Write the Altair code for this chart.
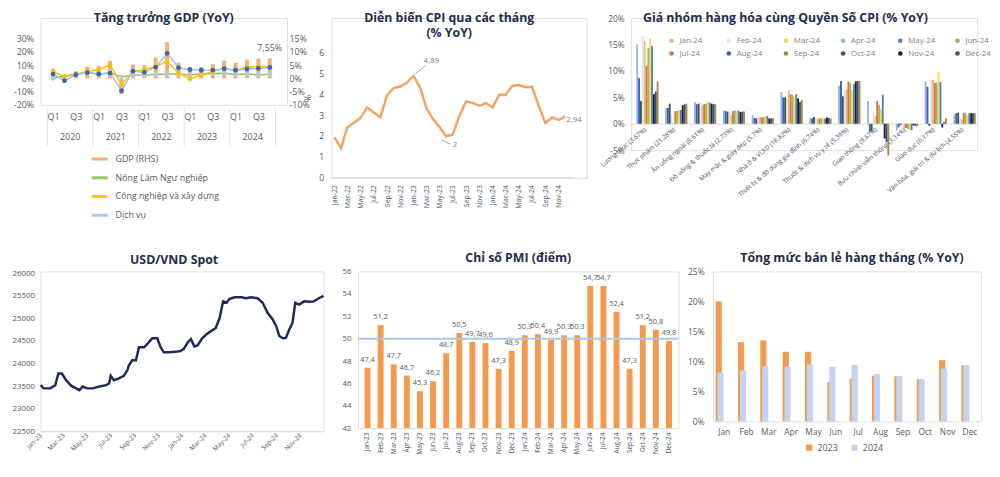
import altair as alt
import pandas as pd

FONT = "Open Sans"
TITLE_COLOR = "#1F2D50"
LABEL_COLOR = "#595959"
ORANGE = "#F39A4E"

# ---------------- Panel 1: GDP growth ----------------
gdp_years = ["2020", "2021", "2022", "2023", "2024"]
gdp = [3.68, 0.39, 2.69, 4.48, 4.72, 6.73, -6.02, 5.22, 5.05, 7.83, 13.71, 5.92,
       3.41, 4.25, 5.47, 6.72, 5.87, 7.09, 7.40, 7.55]
agri = [0.08, 1.72, 2.93, 4.69, 3.16, 4.10, 1.04, 2.60, 2.45, 2.88, 3.24, 3.38,
        2.52, 3.25, 3.72, 3.84, 2.98, 3.34, 2.58, 3.10]
industry = [5.15, 1.38, 2.95, 5.60, 6.30, 10.28, -5.02, 5.61, 6.38, 8.92, 12.91, 3.98,
            -0.40, 2.50, 5.19, 7.35, 6.28, 8.29, 9.11, 8.35]
services = [3.27, -1.76, 2.75, 4.29, 3.34, 4.00, -9.28, 5.42, 4.58, 8.56, 18.86, 8.12,
            6.68, 6.11, 6.24, 7.29, 6.12, 7.06, 7.51, 8.21]
gdp_series = ["GDP (RHS)", "Nông Lâm Ngư nghiệp", "Công nghiệp và xây dựng", "Dịch vụ"]
gdp_line_colors = ["#F4A46A", "#8CC152", "#FFC000", "#9DC3E6"]
gdp_marker_colors = ["#B4C7E7", "#FFC000", "#3F63B8"]
gdp_last_label = "7,55%"

# ---------------- Panel 2: CPI monthly ----------------
month_abbr = ["Jan", "Feb", "Mar", "Apr", "May", "Jun", "Jul", "Aug", "Sep", "Oct", "Nov", "Dec"]
cpi_years = [2022, 2023, 2024]
cpi = [1.94, 1.42, 2.41, 2.64, 2.86, 3.37, 3.14, 2.89, 3.94, 4.30, 4.37, 4.55,
       4.89, 4.31, 3.35, 2.81, 2.43, 2.00, 2.06, 2.96, 3.66, 3.59, 3.45, 3.58,
       3.37, 3.98, 3.97, 4.40, 4.44, 4.34, 4.36, 3.45, 2.63, 2.89, 2.77, 2.94]

# ---------------- Panel 3: CPI groups ----------------
cpi_groups = ["Lương thực (3,67%)", "Thực phẩm (21,28%)", "Ăn uống ngoài (8,61%)",
              "Đồ uống & thuốc lá (2,73%)", "May mặc & giày dép (5,7%)", "Nhà ở & VLXD (18,82%)",
              "Thiết bị & đồ dùng gia đình (6,74%)", "Thuốc & dịch vụ y tế (5,39%)",
              "Giao thông (9,67%)", "Bưu chính viễn thông (3,14%)", "Giáo dục (6,17%)",
              "Văn hóa, giải trí & du lịch (4,55%)"]
group_months = ["Jan-24", "Feb-24", "Mar-24", "Apr-24", "May-24", "Jun-24",
                "Jul-24", "Aug-24", "Sep-24", "Oct-24", "Nov-24", "Dec-24"]
group_colors = ["#F4B183", "#DCE4F2", "#FFD54F", "#9DB2D8", "#5B7BC0", "#8FBF5A",
                "#E0703A", "#2F5FD0", "#A8893A", "#34507F", "#1B2233", "#3E5C3A"]
g_luong_thuc = [15.6, 16.6, 16.1, 15.0, 14.7, 14.3, 11.0, 8.6, 8.0, 6.1, 5.6, 4.3]
g_thuc_pham = [0.1, 1.8, 2.6, 3.0, 2.6, 2.4, 2.4, 3.0, 3.8, 3.7, 3.5, 3.8]
g_an_uong = [3.5, 4.0, 4.2, 4.1, 4.0, 3.8, 3.7, 3.7, 3.7, 3.7, 3.8, 3.8]
g_do_uong = [1.6, 2.4, 2.5, 2.5, 2.5, 2.5, 2.4, 2.4, 2.3, 2.3, 2.2, 2.3]
g_may_mac = [1.3, 1.3, 1.5, 1.6, 1.5, 1.3, 1.2, 1.1, 1.1, 1.0, 1.0, 1.0]
g_nha_o = [6.3, 4.8, 5.2, 6.0, 5.6, 5.4, 5.6, 5.0, 4.5, 4.1, 4.8, 5.0]
g_thiet_bi = [1.0, 1.1, 1.1, 1.1, 1.0, 1.0, 1.0, 1.0, 1.0, 1.1, 1.2, 1.3]
g_y_te = [6.5, 6.2, 6.4, 7.2, 7.5, 7.7, 8.0, 8.1, 8.1, 8.1, 8.0, 5.2]
g_giao_thong = [1.4, 2.2, 2.7, 4.3, 5.5, 3.6, 4.3, -1.5, -6.0, -3.5, -2.8, -1.4]
g_buu_chinh = [-1.3, -1.4, -1.2, -1.3, -1.2, -1.0, -0.8, -0.7, -0.5, -0.4, -0.3, -0.3]
g_giao_duc = [8.3, 8.3, 9.8, 8.0, 7.9, 7.8, 7.7, 7.0, 1.0, 0.3, -0.7, -0.4]
g_van_hoa = [0.8, 1.1, 1.5, 1.8, 2.0, 2.1, 2.1, 2.0, 2.0, 2.0, 2.0, 2.1]

# ---------------- Panel 4: USD/VND ----------------
fx_dates = ["2023-01-01", "2023-01-09", "2023-01-26", "2023-02-08", "2023-02-16", "2023-02-25",
            "2023-03-08", "2023-03-21", "2023-04-03", "2023-04-11", "2023-04-20", "2023-05-01",
            "2023-05-15", "2023-06-02", "2023-06-19", "2023-06-27", "2023-07-01", "2023-07-09",
            "2023-07-22", "2023-08-04", "2023-08-13", "2023-08-17", "2023-08-26", "2023-09-04",
            "2023-09-12", "2023-09-25", "2023-10-03", "2023-10-16", "2023-10-29", "2023-11-07",
            "2023-11-15", "2023-11-28", "2023-12-15", "2023-12-28", "2024-01-05", "2024-01-16",
            "2024-01-24", "2024-02-02", "2024-02-10", "2024-02-22", "2024-03-04", "2024-03-16",
            "2024-03-28", "2024-04-07", "2024-04-16", "2024-04-25", "2024-05-02", "2024-05-15",
            "2024-06-02", "2024-06-14", "2024-06-27", "2024-07-14", "2024-07-27", "2024-08-09",
            "2024-08-22", "2024-08-31", "2024-09-08", "2024-09-17", "2024-09-25", "2024-10-04",
            "2024-10-12", "2024-10-19", "2024-10-29", "2024-11-11", "2024-11-24", "2024-12-06",
            "2024-12-19", "2024-12-31"]
fx_values = [23520, 23450, 23450, 23520, 23780, 23780, 23630, 23510, 23450, 23410, 23490, 23450,
             23450, 23490, 23520, 23560, 23730, 23630, 23670, 23730, 23850, 23960, 24080, 24070,
             24360, 24360, 24430, 24560, 24560, 24360, 24250, 24250, 24260, 24280, 24320, 24470,
             24540, 24380, 24400, 24560, 24650, 24720, 24790, 25010, 25380, 25350, 25430, 25470,
             25470, 25450, 25470, 25450, 25350, 25120, 24980, 24830, 24610, 24560, 24570, 24760,
             24900, 25350, 25310, 25380, 25370, 25380, 25450, 25500]

# ---------------- Panel 5: PMI ----------------
pmi_years = ["23", "24"]
pmi = [47.4, 51.2, 47.7, 46.7, 45.3, 46.2, 48.7, 50.5, 49.7, 49.6, 47.3, 48.9,
       50.3, 50.4, 49.9, 50.3, 50.3, 54.7, 54.7, 52.4, 47.3, 51.2, 50.8, 49.8]
pmi_threshold = 50

# ---------------- Panel 6: Retail sales ----------------
retail_years = ["2023", "2024"]
retail_2023 = [20.0, 13.2, 13.5, 11.6, 11.6, 6.6, 7.1, 7.6, 7.5, 7.0, 10.2, 9.3]
retail_2024 = [8.1, 8.5, 9.2, 9.1, 9.5, 9.1, 9.4, 7.9, 7.5, 7.0, 8.8, 9.3]
retail_colors = ["#F39A4E", "#C5D3F2"]


def title(text, dx=0, offset=None):
    kw = dict(font=FONT, fontSize=12.5, fontWeight="bold", color=TITLE_COLOR, dx=dx, anchor="middle",
              lineHeight=15)
    if offset is not None:
        kw["offset"] = offset
    return alt.TitleParams(text, **kw)


def comma(v, nd=1):
    return f"{v:.{nd}f}".replace(".", ",")


# ======== Panel 1 ========
W1, H1 = 250, 88
XD1 = [-0.664, 20.08]
df_gdp = pd.DataFrame({"idx": list(range(20)), "value": gdp, "series": gdp_series[0]})
df_gdp["label"] = ["" for _ in gdp]
df_gdp.loc[19, "label"] = gdp_last_label
rows = []
for name, vals in zip(gdp_series[1:], [agri, industry, services]):
    for i, v in enumerate(vals):
        rows.append({"idx": i, "value": v, "series": name})
df_sec = pd.DataFrame(rows)
df_year = pd.DataFrame({"idx": [1.5 + 4 * i for i in range(5)], "year": gdp_years})
df_sep = pd.DataFrame({"idx": [-0.5 + 4 * i for i in range(6)]})

sx1 = alt.Scale(domain=XD1, nice=False, zero=False)
x1 = alt.X("idx:Q", scale=sx1,
           axis=alt.Axis(values=list(range(0, 20, 2)), labelExpr="datum.value % 4 == 0 ? 'Q1' : 'Q3'",
                         ticks=False, domain=False, grid=False, title=None, labelFontSize=9,
                         labelColor=LABEL_COLOR, labelPadding=8, labelOverlap=False))
color1 = alt.Color("series:N", scale=alt.Scale(domain=gdp_series, range=gdp_line_colors),
                   legend=alt.Legend(orient="none", legendX=50, legendY=133, direction="vertical",
                                     title=None, symbolType="stroke", symbolStrokeWidth=3,
                                     symbolSize=260, labelFontSize=9, labelColor=LABEL_COLOR,
                                     labelFont=FONT, rowPadding=3, labelOffset=6))
yR = alt.Y("value:Q", scale=alt.Scale(domain=[-10, 22.8], nice=False, zero=False),
           axis=alt.Axis(orient="right", values=[-10, -5, 0, 5, 10, 15], labelExpr="datum.value + '%'",
                         grid=False, ticks=False, domain=False, title=None, labelFontSize=9,
                         labelColor=LABEL_COLOR, labelPadding=2, labelOverlap=False))
bars1 = alt.Chart(df_gdp).mark_bar(size=4, opacity=0.9).encode(x=x1, y=yR, color=color1)
lbl1 = alt.Chart(df_gdp).mark_text(dy=-11, fontSize=9, color=LABEL_COLOR, font=FONT).encode(
    x=x1, y=yR, text="label:N")
yL = alt.Y("value:Q", scale=alt.Scale(domain=[-20, 45.6], nice=False, zero=False),
           axis=alt.Axis(orient="left", values=[-20, -10, 0, 10, 20, 30], labelExpr="datum.value + '%'",
                         grid=False, ticks=False, domain=False, title=None, labelFontSize=9,
                         labelColor=LABEL_COLOR, labelPadding=7, labelOverlap=False))
lines1 = alt.Chart(df_sec).mark_line(strokeWidth=1.5).encode(x=x1, y=yL, color=color1)
pts1 = alt.Chart(df_sec).mark_circle(size=24, opacity=1).encode(
    x=x1, y=yL, fill=alt.Fill("series:N", scale=alt.Scale(domain=gdp_series[1:], range=gdp_marker_colors),
                              legend=None))
years1 = alt.Chart(df_year).mark_text(fontSize=9, color=LABEL_COLOR, font=FONT).encode(
    x=x1, y=alt.value(H1 + 33), text="year:N")
seps1 = alt.Chart(df_sep).mark_rule(color="#E3E3E3").encode(
    x=x1, y=alt.value(H1 + 4), y2=alt.value(H1 + 42))
p1 = alt.layer(alt.layer(bars1, lbl1), alt.layer(seps1, lines1, pts1, years1)).resolve_scale(
    y="independent", fill="independent").properties(
    width=W1, height=H1, title=title("Tăng trưởng GDP (YoY)", dx=0, offset=-6))

# ======== Panel 2 ========
W2, H2 = 259, 162
cpi_dates = [f"{y}-{m:02d}-01" for y in cpi_years for m in range(1, 13)]
df_cpi = pd.DataFrame({"date": cpi_dates, "value": cpi})
tick_dates2 = [alt.DateTime(year=y, month=m, date=1, utc=True) for y in cpi_years for m in range(1, 13, 2)]
sx2 = alt.Scale(type="utc", domain=["2021-12-18", "2025-03-11"], nice=False)
x2 = alt.X("date:T", scale=sx2,
           axis=alt.Axis(values=tick_dates2, format="%b-%y", labelAngle=270, labelFontSize=7,
                         labelColor="#44546A", ticks=False, domain=False, grid=False, title=None,
                         labelPadding=7, labelOverlap=False))
y2 = alt.Y("value:Q", scale=alt.Scale(domain=[0, 7.653], nice=False),
           axis=alt.Axis(values=[0, 1, 2, 3, 4, 5, 6], grid=False, ticks=False, domain=False, title="%",
                         titleFontWeight="normal", titleFontSize=9, titleColor=LABEL_COLOR, titlePadding=6,
                         labelFontSize=8.5, labelColor="#44546A", labelPadding=8, labelOverlap=False))
base2 = pd.DataFrame({"date": ["2021-12-18"], "date2": ["2025-01-10"], "value": [0]})
line2 = alt.Chart(df_cpi).mark_line(color="#F2A464", strokeWidth=2.5).encode(x=x2, y=y2)
rule2 = alt.Chart(base2).mark_rule(color="#D9D9D9").encode(x=x2, x2="date2:T", y=y2)
ann = pd.DataFrame({"date": [cpi_dates[12], cpi_dates[17], cpi_dates[35]],
                    "value": [cpi[12], cpi[17], cpi[35]]})
ann["label"] = [comma(cpi[12], 2), comma(cpi[17], 0), comma(cpi[35], 2)]
a_peak = alt.Chart(ann.iloc[[0]]).mark_text(dx=18, dy=-15, fontSize=8, color="#7F7F7F", font=FONT).encode(
    x=x2, y=y2, text="label:N")
r_peak = alt.Chart(ann.iloc[[0]]).mark_rule(color="#A6A6A6", xOffset=2, yOffset=-2, x2Offset=12,
                                             y2Offset=-10).encode(x=x2, y=y2, x2="date:T", y2="value:Q")
a_min = alt.Chart(ann.iloc[[1]]).mark_text(dx=9, dy=9, fontSize=8, color="#7F7F7F", font=FONT).encode(
    x=x2, y=y2, text="label:N")
r_min = alt.Chart(ann.iloc[[1]]).mark_rule(color="#A6A6A6", xOffset=-5, yOffset=4, x2Offset=4,
                                            y2Offset=8).encode(x=x2, y=y2, x2="date:T", y2="value:Q")
a_end = alt.Chart(ann.iloc[[2]]).mark_text(dx=9, dy=4, fontSize=8, color="#7F7F7F", font=FONT).encode(
    x=x2, y=y2, text="label:N")
p2 = alt.layer(line2, rule2, r_peak, a_peak, r_min, a_min, a_end).properties(
    width=W2, height=H2, title=title(["Diễn biến CPI qua các tháng", "(% YoY)"], dx=-10, offset=-22))

# ======== Panel 3 ========
W3, H3 = 351, 134
group_vals = [g_luong_thuc, g_thuc_pham, g_an_uong, g_do_uong, g_may_mac, g_nha_o, g_thiet_bi,
              g_y_te, g_giao_thong, g_buu_chinh, g_giao_duc, g_van_hoa]
rows = []
for g, vals in zip(cpi_groups, group_vals):
    for m, v in zip(group_months, vals):
        rows.append({"group": g, "month": m, "value": v})
df_grp = pd.DataFrame(rows)
p3 = alt.Chart(df_grp).mark_bar().encode(
    x=alt.X("group:N", sort=cpi_groups, scale=alt.Scale(paddingInner=0.1, paddingOuter=0.05),
            axis=alt.Axis(labelAngle=320, labelAlign="right", labelBaseline="middle", labelFontSize=6.5,
                          labelColor="#44546A", ticks=False, domain=True, domainColor="#D9D9D9",
                          offset=-27, title=None, labelPadding=5, labelLimit=200, labelOverlap=False)),
    xOffset=alt.XOffset("month:N", sort=group_months, scale=alt.Scale(paddingInner=0, paddingOuter=0)),
    y=alt.Y("value:Q", scale=alt.Scale(domain=[-5, 20], nice=False),
            axis=alt.Axis(values=[-5, 0, 5, 10, 15, 20], labelExpr="datum.value + '%'", grid=False,
                          ticks=False, domain=False, title=None, labelFontSize=8.5, labelColor=LABEL_COLOR,
                          labelPadding=7, labelOverlap=False)),
    color=alt.Color("month:N", sort=group_months, scale=alt.Scale(domain=group_months, range=group_colors),
                    legend=alt.Legend(orient="none", legendX=37, legendY=19, columns=6, direction="horizontal",
                                      title=None, symbolType="circle", symbolSize=22, labelFontSize=8,
                                      labelColor="#7F7F7F", labelFont=FONT, columnPadding=18,
                                      rowPadding=5, gridAlign="all", labelOffset=4)),
).properties(width=W3, height=H3, title=title("Giá nhóm hàng hóa cùng Quyền Số CPI (% YoY)", dx=-19,
                                              offset=-10))

# ======== Panel 4 ========
W4, H4 = 287, 162
df_fx = pd.DataFrame({"date": fx_dates, "value": fx_values})
tick_dates4 = [alt.DateTime(year=y, month=m, date=1, utc=True) for y in [2023, 2024] for m in range(1, 13, 2)]
p4 = alt.Chart(df_fx).mark_line(color="#1F2A5A", strokeWidth=2.5).encode(
    x=alt.X("date:T", scale=alt.Scale(type="utc", domain=["2023-01-01", "2024-12-31"], nice=False),
            axis=alt.Axis(values=tick_dates4, format="%b-%y", labelAngle=315, labelAlign="right",
                          labelBaseline="middle", labelFontSize=6.5, labelColor="#44546A", ticks=False,
                          domain=True, domainColor="#D9D9D9", grid=False, title=None, labelPadding=3,
                          labelOverlap=False)),
    y=alt.Y("value:Q", scale=alt.Scale(domain=[22500, 26043.75], nice=False, zero=False),
            axis=alt.Axis(values=list(range(22500, 26001, 500)), format="d", grid=False, ticks=False,
                          domain=False, title=None, labelFontSize=8, labelColor=LABEL_COLOR, labelPadding=6,
                          labelOverlap=False)),
).properties(width=W4, height=H4, title=title("USD/VND Spot", dx=-8, offset=3))

# ======== Panel 5 ========
W5, H5 = 325, 159
pmi_months = [f"{m}-{y}" for y in pmi_years for m in month_abbr]
df_pmi = pd.DataFrame({"month": pmi_months, "value": pmi})
df_pmi["label"] = [comma(v) for v in pmi]
x5 = alt.X("month:N", sort=pmi_months, scale=alt.Scale(paddingInner=0.55, paddingOuter=0.5),
           axis=alt.Axis(labelAngle=270, labelFontSize=6.5, labelColor="#44546A", ticks=False,
                         domain=False, title=None, labelPadding=4, labelOverlap=False))
y5 = alt.Y("value:Q", scale=alt.Scale(domain=[42, 56], nice=False, zero=False),
           axis=alt.Axis(values=list(range(42, 57, 2)), grid=False, ticks=False, domain=False, title=None,
                         labelFontSize=8, labelColor=LABEL_COLOR, labelPadding=7, labelOverlap=False))
bars5 = alt.Chart(df_pmi).mark_bar(color=ORANGE).encode(x=x5, y=y5, y2=alt.datum(42))
df_thr = pd.DataFrame({"value": [pmi_threshold]})
rule5 = alt.Chart(df_thr).mark_rule(color="#A9C8EC", strokeWidth=2).encode(y=y5)
text5 = alt.Chart(df_pmi).mark_text(dy=-8, fontSize=7.5, color=LABEL_COLOR, font=FONT).encode(
    x=x5, y=y5, text="label:N")
p5 = alt.layer(bars5, rule5, text5).properties(width=W5, height=H5,
                                               title=title("Chỉ số PMI (điểm)", dx=0, offset=3))

# ======== Panel 6 ========
W6, H6 = 272, 152
rows = []
for yr, vals in zip(retail_years, [retail_2023, retail_2024]):
    for m, v in zip(month_abbr, vals):
        rows.append({"month": m, "year": yr, "value": v})
df_ret = pd.DataFrame(rows)
p6 = alt.Chart(df_ret).mark_bar(width=6.3).encode(
    x=alt.X("month:N", sort=month_abbr, scale=alt.Scale(paddingInner=0.43, paddingOuter=0.215),
            axis=alt.Axis(labelAngle=0, labelFontSize=8.5, labelColor=LABEL_COLOR, ticks=False,
                          domain=False, title=None, labelPadding=6, labelOverlap=False)),
    xOffset=alt.XOffset("year:N", sort=retail_years, scale=alt.Scale(paddingInner=0, paddingOuter=0)),
    y=alt.Y("value:Q", scale=alt.Scale(domain=[0, 25], nice=False),
            axis=alt.Axis(values=[0, 5, 10, 15, 20, 25], labelExpr="datum.value + '%'", grid=False,
                          ticks=False, domain=False, title=None, labelFontSize=8.5, labelColor=LABEL_COLOR,
                          labelPadding=9, labelOverlap=False)),
    color=alt.Color("year:N", sort=retail_years, scale=alt.Scale(domain=retail_years, range=retail_colors),
                    legend=alt.Legend(orient="none", legendX=93, legendY=174, direction="horizontal",
                                      title=None, symbolType="square", symbolSize=40, labelFontSize=9,
                                      labelColor=LABEL_COLOR, labelFont=FONT, columnPadding=12)),
).properties(width=W6, height=H6, title=title("Tổng mức bán lẻ hàng tháng (% YoY)", dx=5, offset=3))

row1 = alt.hconcat(p1, p2, p3, spacing=45, bounds="flush").resolve_scale(color="independent")
row2 = alt.hconcat(p4, p5, p6, spacing=35, bounds="flush").resolve_scale(color="independent")
chart = alt.vconcat(row1, row2, spacing=257, bounds="flush").resolve_scale(
    color="independent", fill="independent").properties(
    padding={"left": 3, "top": 0, "right": 0, "bottom": 0}
).configure_view(stroke=None).configure(font=FONT).configure_axis(labelFont=FONT, titleFont=FONT)

chart.save("out.html", embed_options={"renderer": "svg", "actions": False})
